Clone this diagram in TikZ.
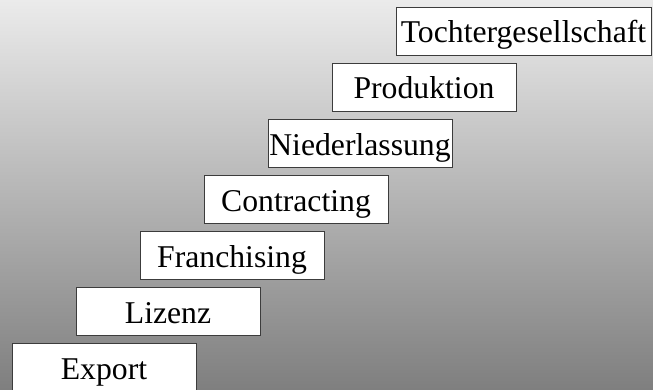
\documentclass[tikz,border=0pt]{standalone}
\usepackage{fontspec}
\setmainfont{Liberation Serif}
\definecolor{bgtop}{RGB}{235,235,235}
\definecolor{bgbot}{RGB}{127,127,127}
\definecolor{boxline}{RGB}{60,60,60}
\begin{document}
\begin{tikzpicture}[x=1pt,y=1pt,
  stepbox/.style={draw=boxline, line width=0.8pt, fill=white, inner sep=0pt,
    minimum width=184pt, minimum height=48pt, text height=30pt, text depth=6pt,
    font=\fontsize{31.7}{38}\selectfont, anchor=center}]
\useasboundingbox (0,0) rectangle (653,389);
\shade[top color=bgtop, bottom color=bgbot] (0,0) rectangle (653,389);
\node[stepbox, minimum width=255pt] (t) at (523.5,358) {Tochtergesellschaft};
\node[stepbox] (p) at (424,302) {Produktion};
\node[stepbox] (n) at (360,246) {Niederlassung};
\node[stepbox] (c) at (296,190) {Contracting};
\node[stepbox] (f) at (232,134) {Franchising};
\node[stepbox] (l) at (168,78) {Lizenz};
\node[stepbox] (e) at (104,22) {Export};
\end{tikzpicture}
\end{document}
